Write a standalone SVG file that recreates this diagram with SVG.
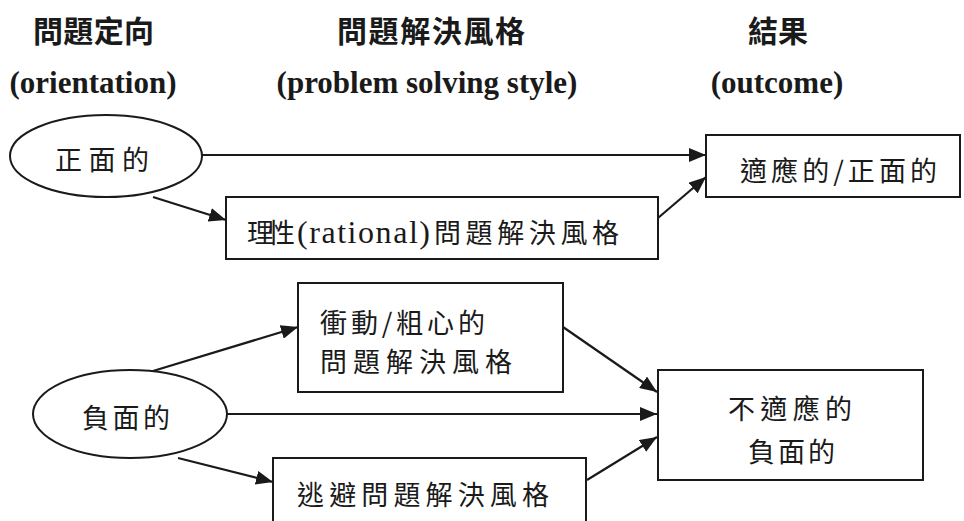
<svg xmlns="http://www.w3.org/2000/svg" width="964" height="521" viewBox="0 0 964 521">
<defs>
<marker id="ah" markerUnits="userSpaceOnUse" markerWidth="18" markerHeight="14" refX="17" refY="7" orient="auto">
<path d="M0,0 L17,7 L0,14 z" fill="#1a1a1a"/>
</marker>
<style>
.hc{font-family:"Noto Sans CJK TC","Noto Sans CJK SC",sans-serif;font-weight:700;font-size:30px;fill:#1a1a1a}
.he{font-family:"Liberation Serif",serif;font-weight:700;font-size:31px;fill:#1a1a1a}
.t{font-family:"Liberation Serif","Noto Sans CJK TC",serif;font-size:26px;fill:#1a1a1a}
.c{font-family:"Noto Sans CJK TC","Noto Sans CJK SC",sans-serif;font-size:27px;fill:#1a1a1a}
.shape{fill:#fff;stroke:#1a1a1a;stroke-width:2}
.ln{stroke:#1a1a1a;stroke-width:2.2;fill:none;marker-end:url(#ah)}
</style>
</defs>
<rect width="964" height="521" fill="#fff"/>
<g id="headings">
<text class="hc" x="33" y="42" textLength="121" lengthAdjust="spacing">問題定向</text>
<text class="hc" x="337" y="42" textLength="188" lengthAdjust="spacing">問題解決風格</text>
<text class="hc" x="748" y="42" textLength="60" lengthAdjust="spacing">結果</text>
<text class="he" x="93" y="93" text-anchor="middle">(orientation)</text>
<text class="he" x="427" y="93" text-anchor="middle">(problem solving style)</text>
<text class="he" x="777" y="93" text-anchor="middle">(outcome)</text>
</g>
<g id="connectors">
<line class="ln" x1="202" y1="155" x2="706" y2="155"/>
<line class="ln" x1="153" y1="197" x2="226" y2="220"/>
<line class="ln" x1="658" y1="218" x2="706" y2="177"/>
<line class="ln" x1="153" y1="371" x2="298" y2="327"/>
<line class="ln" x1="227" y1="414" x2="657" y2="414"/>
<line class="ln" x1="178" y1="458" x2="273" y2="482"/>
<line class="ln" x1="563" y1="327" x2="657" y2="392"/>
<line class="ln" x1="587" y1="480" x2="657" y2="437"/>
</g>
<g id="node-positive">
<ellipse class="shape" cx="106" cy="156" rx="96" ry="41"/>
<text class="c" x="55" y="170" font-size="29" textLength="94" lengthAdjust="spacing">正面的</text>
</g>
<g id="node-rational">
<rect class="shape" x="226" y="197" width="432" height="62"/>
<text class="t" y="243"><tspan class="c" x="247" font-size="25" textLength="48" lengthAdjust="spacing">理性</tspan><tspan x="297" font-size="32" textLength="133" lengthAdjust="spacing">(rational)</tspan><tspan class="c" x="434" font-size="26" textLength="185" lengthAdjust="spacing">問題解決風格</tspan></text>
</g>
<g id="node-adaptive">
<rect class="shape" x="706" y="135" width="254" height="62"/>
<text class="c" x="740" y="181" textLength="197" lengthAdjust="spacing">適應的/正面的</text>
</g>
<g id="node-negative">
<ellipse class="shape" cx="130" cy="414" rx="97" ry="44"/>
<text class="c" x="82" y="428" textLength="88" lengthAdjust="spacing">負面的</text>
</g>
<g id="node-impulsive">
<rect class="shape" x="298" y="283" width="265" height="109"/>
<text class="c" x="320" y="333" font-size="28" textLength="165" lengthAdjust="spacing">衝動/粗心的</text>
<text class="c" x="320" y="372" font-size="28" textLength="192" lengthAdjust="spacing">問題解決風格</text>
</g>
<g id="node-avoidant">
<path class="shape" d="M273,523 L273,458 L586,458 L586,523"/>
<text class="c" x="297" y="505" font-size="28" textLength="252" lengthAdjust="spacing">逃避問題解決風格</text>
</g>
<g id="node-maladaptive">
<rect class="shape" x="658" y="370" width="265" height="110"/>
<text class="c" x="728" y="419" font-size="26" textLength="124" lengthAdjust="spacing">不適應的</text>
<text class="c" x="748" y="462" font-size="26" textLength="87" lengthAdjust="spacing">負面的</text>
</g>
</svg>
